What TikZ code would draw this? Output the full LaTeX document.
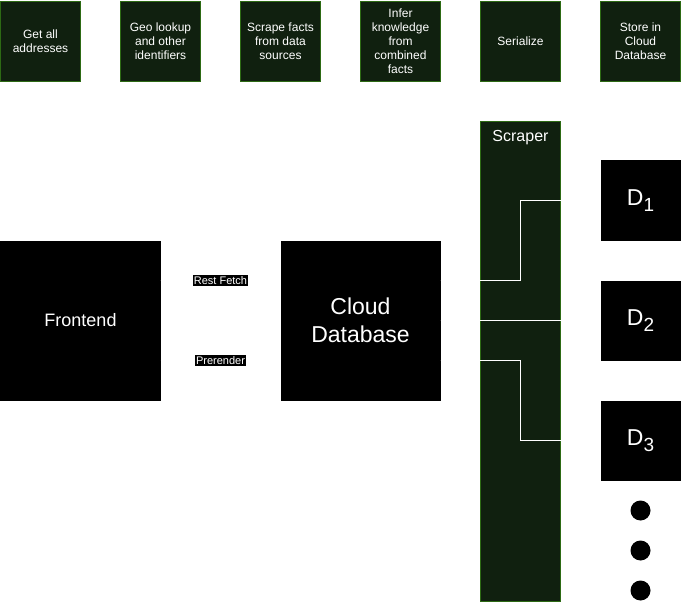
\documentclass[tikz,border=0pt]{standalone}
\usepackage{fontspec}
\setmainfont{Liberation Sans}
\usetikzlibrary{calc, arrows.meta}
\usepackage{xcolor}
\definecolor{stepfill}{HTML}{10200F}
\definecolor{stepline}{HTML}{2D6A14}

\begin{document}
\begin{tikzpicture}[%
    x=1pt, y=-1pt,
    stage/.style = {draw=stepline, fill=stepfill, text=white, minimum size=80pt,
        inner sep=1pt, align=center, font=\fontsize{12}{14}\selectfont},
    block/.style = {fill=black, text=white, minimum size=160pt, inner sep=0pt,
        align=center},
    store/.style = {fill=black, text=white, minimum size=80pt, inner sep=0pt,
        font=\fontsize{23}{24}\selectfont},
    dot/.style = {circle, fill=black, minimum size=20pt, inner sep=0pt},
    every edge/.style = {draw=white, -Stealth},
    tag/.style = {fill=black, text=white, inner sep=1pt,
        font=\fontsize{11}{12}\selectfont}
]
\useasboundingbox (-0.5,-0.5) rectangle (680.5,601.5);
% pipeline steps along the top
\foreach \t [count=\i from 0] in {Get all\\addresses, Geo lookup\\and other\\identifiers,
    Scrape facts\\from data\\sources, Infer\\knowledge\\from\\combined\\facts,
    Serialize, Store in\\Cloud\\Database} {
    \node (p\i) [stage] at (40+120*\i, 40.5) {\t};
}
\node (front) [block, font=\fontsize{18}{21}\selectfont] at (80, 320) {Frontend};
\node (cloud) [block, font=\fontsize{23}{28}\selectfont] at (360, 320) {Cloud\\Database};
\node (scraper) [draw=stepline, fill=stepfill, minimum width=80pt, minimum height=480pt,
    inner sep=0pt] at (520, 360.5) {};
\node (scrlabel) [text=white, font=\fontsize{16}{18}\selectfont]
    at ($(scraper.north)+(0,17)$) {Scraper};
\foreach \i in {1,2,3} {
    \node (d\i) [store] at (640, 80+120*\i)
        {D\raisebox{-0.45ex}{\fontsize{19}{19}\selectfont\i}};
}
\foreach \i in {1,2,3} {
    \node (dot\i) [dot] at (640, 470+40*\i) {};
}
\coordinate (c1) at ($(cloud.east)+(0,-40)$);
\coordinate (c3) at ($(cloud.east)+(0,40)$);
\coordinate (w1) at ($(cloud.west)+(0,-40)$);
\coordinate (w3) at ($(cloud.west)+(0,40)$);
\coordinate (f1) at ($(front.east)+(0,-40)$);
\coordinate (f3) at ($(front.east)+(0,40)$);
\path
    (d1.west) edge [to path={-| ($(d1.west)!0.5!(c1)$) |- (\tikztotarget)}] (c1)
    (d2.west) edge (cloud.east)
    (d3.west) edge [to path={-| ($(d3.west)!0.5!(c3)$) |- (\tikztotarget)}] (c3)
    (w1) edge (f1)
    (f3) edge (w3)
    ;
\node (rest) [tag] at ($(f1)!0.5!(w1)$) {Rest Fetch};
\node (pre) [tag] at ($(f3)!0.5!(w3)$) {Prerender};
\end{tikzpicture}
\end{document}
